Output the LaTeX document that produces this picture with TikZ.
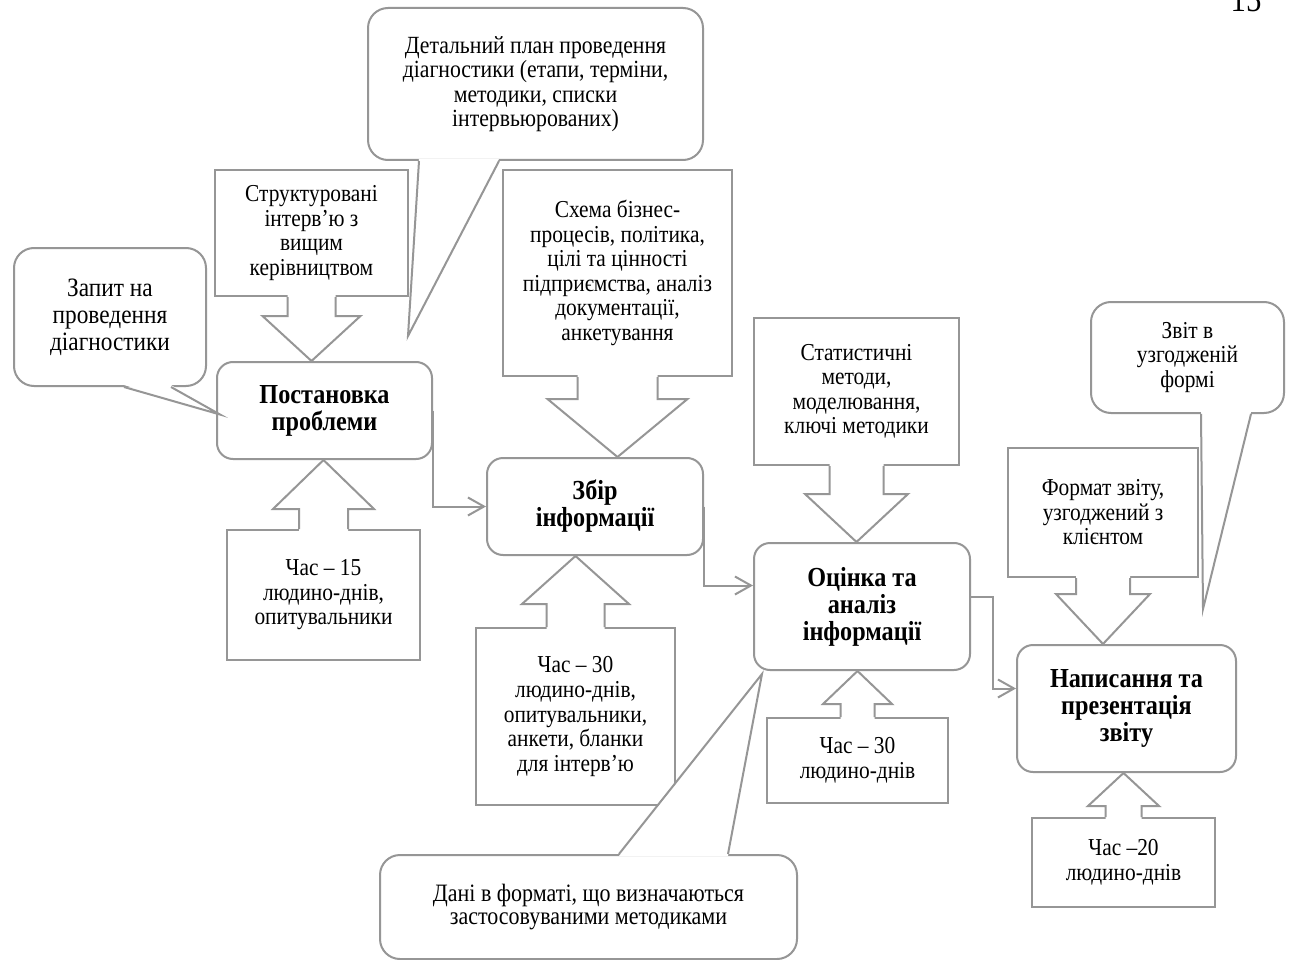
\documentclass[tikz,border=0pt]{standalone}
\usepackage{fontspec}
\setmainfont{Liberation Serif}[FakeStretch=0.88]
\usetikzlibrary{calc,arrows.meta}
\definecolor{gc}{RGB}{150,150,150}
\tikzset{
  ln/.style={draw=gc, line width=2pt},
  mainbox/.style={ln, rounded corners=16pt, inner sep=0pt, align=center,
    font=\fontsize{27.5}{27}\selectfont\bfseries},
  infobox/.style={ln, inner sep=0pt, align=center,
    font=\fontsize{24.3}{24.5}\selectfont},
  callbox/.style={ln, rounded corners=20pt, inner sep=0pt, align=center,
    font=\fontsize{24.3}{24.5}\selectfont},
  conn/.style={ln, -{Straight Barb[length=16pt,width=18pt]}},
}
% down arrow from box #1 to node #5: shaft half #2, head half #3, shaft length #4
\newcommand\arrdn[5]{%
  \fill[white] ($(#1.south)+(-#2,-2)$) -- ($(#1.south)+(-#2,#4)$) -- ($(#1.south)+(-#3,#4)$)
    -- (#1.south |- #5.north) -- ($(#1.south)+(#3,#4)$) -- ($(#1.south)+(#2,#4)$)
    -- ($(#1.south)+(#2,-2)$) -- cycle;
  \draw[ln, line join=miter] ($(#1.south)+(-#2,0)$) -- ($(#1.south)+(-#2,#4)$) -- ($(#1.south)+(-#3,#4)$)
    -- (#1.south |- #5.north) -- ($(#1.south)+(#3,#4)$) -- ($(#1.south)+(#2,#4)$)
    -- ($(#1.south)+(#2,0)$);}
\newcommand\arrup[5]{%
  \fill[white] ($(#1.north)+(-#2,2)$) -- ($(#1.north)+(-#2,-#4)$) -- ($(#1.north)+(-#3,-#4)$)
    -- (#1.north |- #5.south) -- ($(#1.north)+(#3,-#4)$) -- ($(#1.north)+(#2,-#4)$)
    -- ($(#1.north)+(#2,2)$) -- cycle;
  \draw[ln, line join=miter] ($(#1.north)+(-#2,0)$) -- ($(#1.north)+(-#2,-#4)$) -- ($(#1.north)+(-#3,-#4)$)
    -- (#1.north |- #5.south) -- ($(#1.north)+(#3,-#4)$) -- ($(#1.north)+(#2,-#4)$)
    -- ($(#1.north)+(#2,0)$);}
\begin{document}
\begin{tikzpicture}[x=1pt,y=-1pt]
\useasboundingbox (0,0) rectangle (1293,960);
\fill[white] (0,0) rectangle (1293,960);

% page number (cut by the top edge, as in the reference)
\node[font=\fontsize{35}{35}\selectfont, anchor=base, inner sep=0pt] (pg) at (1246,12) {15};

% callouts
\node[callbox, font=\fontsize{26.5}{27}\selectfont, minimum width=192pt, minimum height=138pt] (A) at (110,317) {Запит на\\проведення\\діагностики};
\node[callbox, font=\fontsize{24.7}{24.5}\selectfont, minimum width=335pt, minimum height=152pt] (C) at (535.5,84) {Детальний план проведення\\діагностики (етапи, терміни,\\методики, списки\\інтервьюрованих)};
\node[callbox, minimum width=193pt, minimum height=111pt] (O) at (1187.5,357.5) {Звіт в\\узгодженій\\формі};
\node[callbox, font=\fontsize{25}{23.5}\selectfont, minimum width=417pt, minimum height=104pt] (I) at (588.5,907) {Дані в форматі, що визначаються\\застосовуваними методиками};

% main process nodes
\node[mainbox, minimum width=215pt, minimum height=97pt] (E) at (324.5,410.5) {Постановка\\проблеми};
\node[mainbox, minimum width=216pt, minimum height=97pt] (G) at (595,506.5) {Збір\\інформації};
\node[mainbox, minimum width=216pt, minimum height=127pt] (J) at (862,606.5) {Оцінка та\\аналіз\\інформації};
\node[mainbox, minimum width=219pt, minimum height=127pt] (M) at (1126.5,708.5) {Написання та\\презентація\\звіту};

% input boxes
\node[infobox, minimum width=193pt, minimum height=126pt] (B) at (311.5,233) {Структуровані\\інтерв’ю з\\вищим\\керівництвом};
\node[infobox, minimum width=229pt, minimum height=206pt] (D) at (617.5,273) {Схема бізнес-\\процесів, політика,\\цілі та цінності\\підприємства, аналіз\\документації,\\анкетування};
\node[infobox, minimum width=205pt, minimum height=147pt] (K) at (856.5,391.5) {Статистичні\\методи,\\моделювання,\\ключі методики};
\node[infobox, minimum width=190pt, minimum height=129pt] (N) at (1103,512.5) {Формат звіту,\\узгоджений з\\клієнтом};
\node[infobox, minimum width=193pt, minimum height=130pt] (F) at (323.5,595) {Час – 15\\людино-днів,\\опитувальники};
\node[infobox, minimum width=199pt, minimum height=177pt] (H) at (575.5,716.5) {Час – 30\\людино-днів,\\опитувальники,\\анкети, бланки\\для інтерв’ю};
\node[infobox, minimum width=181pt, minimum height=85pt] (L) at (857.5,760.5) {Час – 30\\людино-днів};
\node[infobox, minimum width=183pt, minimum height=89pt] (P) at (1123.5,862.5) {Час –20\\людино-днів};

% block arrows of the input boxes
\arrdn{B}{24}{49}{19}{E}
\arrdn{D}{40}{70}{22}{G}
\arrdn{K}{27}{51.5}{28}{J}
\arrdn{N}{27}{47}{16}{M}
\arrup{F}{24.5}{50.5}{20}{E}
\arrup{H}{29}{53.5}{23}{G}
\arrup{L}{17}{34.5}{13}{J}
\arrup{P}{18}{35.5}{11}{M}

% flow connectors
\draw[conn] (E.east) |- (G.west);
\draw[conn] (G.east) |- ($(J.west)+(0,-21)$);
\draw[conn] ($(J.east)+(0,-10)$) -- ++(22,0) |- ($(M.west)+(0,-20)$);

% callout pointers
\coordinate (tA) at ($(E.west)+(4,4)$);
\coordinate (tC) at ($(E.north east)+(-25,-25)$);
\coordinate (tO) at ($(M.north east)+(-34,-35)$);
\coordinate (tI) at ($(J.south west)+(9,3)$);

\fill[white] ($(A.south west)+(111,-2)$) -- (tA) -- ($(A.south west)+(158,-2)$) -- cycle;
\draw[ln, line join=miter] ($(A.south west)+(111,0)$) -- (tA) -- ($(A.south west)+(158,0)$);

\fill[white] ($(C.south west)+(52,-2)$) -- (tC) -- ($(C.south west)+(132,-2)$) -- cycle;
\draw[ln, line join=miter] ($(C.south west)+(52,0)$) -- (tC) -- ($(C.south west)+(132,0)$);

\fill[white] ($(O.south west)+(111,-2)$) -- (tO) -- ($(O.south west)+(161,-2)$) -- cycle;
\draw[ln, line join=miter] ($(O.south west)+(111,0)$) -- (tO) -- ($(O.south west)+(161,0)$);

\fill[white] ($(I.north west)+(240,2)$) -- (tI) -- ($(I.north west)+(349,2)$) -- cycle;
\draw[ln, line join=miter] ($(I.north west)+(240,0)$) -- (tI) -- ($(I.north west)+(349,0)$);
\end{tikzpicture}
\end{document}
